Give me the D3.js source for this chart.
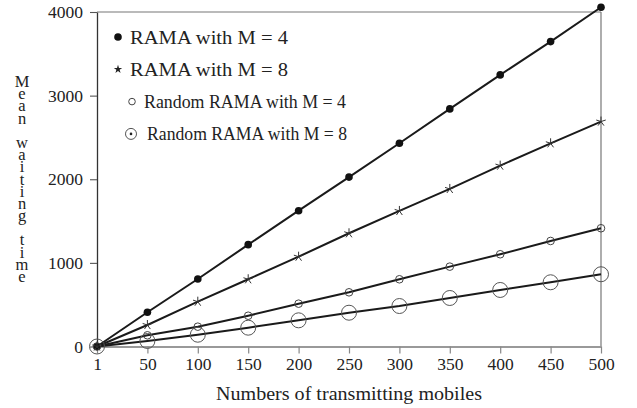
<!DOCTYPE html>
<html><head><meta charset="utf-8">
<script src="https://cdn.jsdelivr.net/npm/d3@7/dist/d3.min.js"></script>
<style>body{margin:0;background:#fff}svg{display:block}</style>
</head><body><svg id="c" width="637" height="408"></svg>
<script>
const categories = [1, 50, 100, 150, 200, 250, 300, 350, 400, 450, 500];
const ramaM4 = [0, 409, 807, 1218, 1624, 2026, 2430, 2841, 3248, 3646, 4057];
const ramaM8 = [0, 257, 536, 804, 1074, 1354, 1621, 1884, 2163, 2430, 2690];
const randM4 = [0, 134, 237, 368, 512, 648, 804, 955, 1103, 1262, 1414];
const randM8 = [0, 66, 141, 225, 313, 404, 484, 580, 676, 768, 864];
const yTicks = [0, 1000, 2000, 3000, 4000];
const legendLabels = ["RAMA with M = 4", "RAMA with M = 8", "Random RAMA with M = 4", "Random RAMA with M = 8"];
const xTitle = "Numbers of transmitting mobiles";
const yTitle = "Mean waiting time";

const FONT = "Liberation Serif";
const svg = d3.select("#c");
const L = 97, R = 601, T = 12, B = 346.5;
const x = d3.scalePoint().domain(categories).range([L, R]);
const y = d3.scaleLinear().domain([0, 4000]).range([B, T]);

// frame top/right
svg.append("line").attr("x1", L).attr("x2", R).attr("y1", T).attr("y2", T).attr("stroke", "#777").attr("stroke-width", 1.2);
svg.append("line").attr("x1", R).attr("x2", R).attr("y1", T).attr("y2", B).attr("stroke", "#777").attr("stroke-width", 1.2);

// x axis
const xa = svg.append("g").attr("transform", `translate(0,${B})`)
  .call(d3.axisBottom(x).tickSize(7).tickSizeOuter(0).tickPadding(4));
xa.attr("font-family", FONT).attr("font-size", 17.5);
xa.select(".domain").attr("stroke", "#999").attr("stroke-width", 2.2);
xa.selectAll(".tick line").attr("stroke", "#888").attr("stroke-width", 1.2);
xa.selectAll(".tick text").attr("fill", "#222").attr("font-family", FONT);

// y axis
const ya = svg.append("g").attr("transform", `translate(${L},0)`)
  .call(d3.axisLeft(y).tickValues(yTicks).tickSize(7).tickSizeOuter(0).tickPadding(7).tickFormat(d3.format("d")));
ya.attr("font-family", FONT).attr("font-size", 17.5);
ya.select(".domain").attr("stroke", "#333").attr("stroke-width", 1.3);
ya.selectAll(".tick line").attr("stroke", "#555").attr("stroke-width", 1.1);
ya.selectAll(".tick text").attr("fill", "#222").attr("font-family", FONT);

const line = d3.line().x((d, i) => x(categories[i])).y(d => y(d));
const series = [randM8, randM4, ramaM8, ramaM4];
series.forEach(s => {
  svg.append("path").datum(s).attr("d", line).attr("fill", "none").attr("stroke", "#1a1a1a").attr("stroke-width", 2);
});

const star = d3.symbol().type(d3.symbolStar).size(22);
function drawMarker(g, kind, cx, cy, legend) {
  if (kind === 0) {
    g.append("circle").attr("cx", cx).attr("cy", cy).attr("r", 3.8).attr("fill", "#111");
  } else if (kind === 1) {
    if (legend) {
      g.append("path").attr("d", star()).attr("transform", `translate(${cx},${cy})`).attr("fill", "#222");
    } else {
      for (let a = 0; a < 5; a++) {
        const ang = -Math.PI / 2 + a * 2 * Math.PI / 5;
        g.append("line").attr("x1", cx).attr("y1", cy)
          .attr("x2", cx + 5 * Math.cos(ang)).attr("y2", cy + 5 * Math.sin(ang))
          .attr("stroke", "#333").attr("stroke-width", 1);
      }
    }
  } else if (kind === 2) {
    g.append("circle").attr("cx", cx).attr("cy", cy).attr("r", legend ? 3.3 : 3.8).attr("fill", "none").attr("stroke", "#444").attr("stroke-width", 1);
  } else {
    g.append("circle").attr("cx", cx).attr("cy", cy).attr("r", legend ? 5.5 : 7.5).attr("fill", "none").attr("stroke", "#555").attr("stroke-width", 1);
    if (legend) g.append("circle").attr("cx", cx).attr("cy", cy).attr("r", 1.3).attr("fill", "#222");
  }
}
const mg = svg.append("g");
[ramaM4, ramaM8, randM4, randM8].forEach((s, k) => {
  s.forEach((v, i) => drawMarker(mg, k, x(categories[i]), y(v), false));
});

// legend
const lg = svg.append("g");
const lgMarkX = [118, 118, 132, 131];
const lgTextX = [130, 130, 144, 147];
const lgW = [158, 158, 202, 200];
legendLabels.forEach((t, k) => {
  const cy = 37 + k * 32.3;
  drawMarker(lg, k, lgMarkX[k], cy, true);
  lg.append("text").attr("x", lgTextX[k]).attr("y", cy + 6.5).attr("font-size", 18.5)
    .attr("font-family", FONT).attr("fill", "#222")
    .attr("textLength", lgW[k]).attr("lengthAdjust", "spacingAndGlyphs").text(t);
});

// x title
svg.append("text").attr("x", 349).attr("y", 400).attr("text-anchor", "middle").attr("font-size", 18.5)
  .attr("font-family", FONT).attr("fill", "#222")
  .attr("textLength", 266).attr("lengthAdjust", "spacingAndGlyphs").text(xTitle);

// y title: stacked upright letters in one text element
svg.append("text").attr("x", 22).attr("y", 72)
  .attr("font-size", 16.5).attr("font-family", FONT).attr("fill", "#222")
  .style("writing-mode", "vertical-rl").style("text-orientation", "upright")
  .attr("textLength", 214).attr("lengthAdjust", "spacing")
  .text(yTitle);
</script></body></html>
